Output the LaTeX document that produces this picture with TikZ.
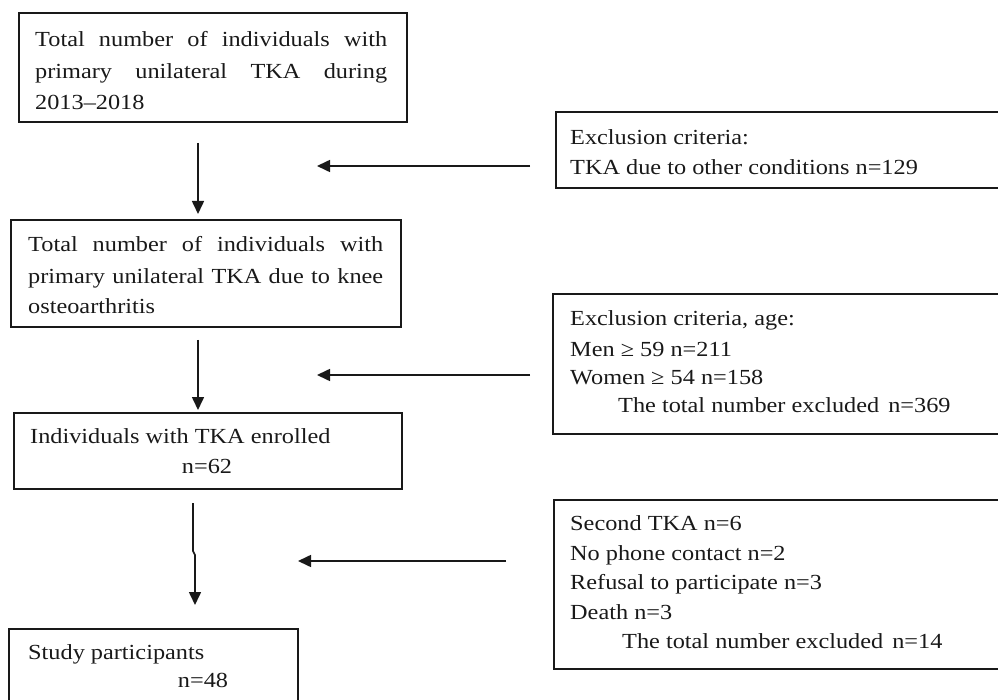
\documentclass[tikz,border=0pt]{standalone}
\usepackage{fontspec}
\setmainfont[FakeStretch=1.13]{Liberation Serif}
\usetikzlibrary{arrows.meta}
\begin{document}
\begin{tikzpicture}[x=1pt,y=-1pt,
  box/.style={draw=black!90, line width=1.6pt, anchor=north west, inner sep=0pt},
  tl/.style={anchor=base west, inner sep=0pt, font=\fontsize{21.5}{29}\selectfont, text=black!90},
  tc/.style={anchor=base, inner sep=0pt, font=\fontsize{21.5}{29}\selectfont, text=black!90},
  arr/.style={line width=1.6pt, black!90, -{Triangle[length=13pt,width=12pt]}}]
\useasboundingbox (0,0) rectangle (998,700);

% left boxes
\node[box, minimum width=388pt, minimum height=109pt] (b1) at (18,12) {};
\node[box, minimum width=390pt, minimum height=107pt] (b2) at (10,219) {};
\node[box, minimum width=388pt, minimum height=76pt] (b3) at (13,412) {};
\node[box, minimum width=289pt, minimum height=100pt] (b4) at (8,628) {};

% right boxes
\node[box, minimum width=460pt, minimum height=76pt] (r1) at (555,111) {};
\node[box, minimum width=460pt, minimum height=140pt] (r2) at (552,293) {};
\node[box, minimum width=460pt, minimum height=169pt] (r3) at (553,499) {};

% texts box 1
\node[tl] (t1a) at (35,47) {\makebox[352pt][s]{Total number of individuals with}};
\node[tl] (t1b) at (35,79) {\makebox[352pt][s]{primary unilateral TKA during}};
\node[tl] (t1c) at (35,110) {2013–2018};

% texts box 2
\node[tl] (t2a) at (28,252) {\makebox[355pt][s]{Total number of individuals with}};
\node[tl] (t2b) at (28,284) {\makebox[355pt][s]{primary unilateral TKA due to knee}};
\node[tl] (t2c) at (28,314) {osteoarthritis};

% texts box 3
\node[tl] (t3a) at (30,443) {Individuals with TKA enrolled};
\node[tc] (t3b) at (207,473) {n=62};

% texts box 4
\node[tl] (t4a) at (28,659) {Study participants};
\node[tc] (t4b) at (203,687) {n=48};

% right box 1
\node[tl] (s1a) at (570,145) {Exclusion criteria:};
\node[tl] (s1b) at (570,175) {TKA due to other conditions n=129};

% right box 2
\node[tl] (s2a) at (570,326) {Exclusion criteria, age:};
\node[tl] (s2b) at (570,356) {Men ≥ 59 n=211};
\node[tl] (s2c) at (570,384) {Women ≥ 54 n=158};
\node[tl] (s2d) at (618,412) {The total number excluded\hspace{9pt}n=369};

% right box 3
\node[tl] (s3a) at (570,530) {Second TKA n=6};
\node[tl] (s3b) at (570,560) {No phone contact n=2};
\node[tl] (s3c) at (570,589) {Refusal to participate n=3};
\node[tl] (s3d) at (570,619) {Death n=3};
\node[tl] (s3e) at (622,648) {The total number excluded\hspace{9pt}n=14};

% arrows
\coordinate (v1s) at (198,143);
\coordinate (v1e) at (198,214);
\coordinate (h1s) at (530,166);
\coordinate (h1e) at (317,166);
\coordinate (v2s) at (198,340);
\coordinate (v2e) at (198,410);
\coordinate (h2s) at (530,375);
\coordinate (h2e) at (317,375);
\coordinate (v3s) at (193,503);
\coordinate (v3k1) at (193,551);
\coordinate (v3k2) at (195,555);
\coordinate (v3e) at (195,605);
\coordinate (h3s) at (506,561);
\coordinate (h3e) at (298,561);

\draw[arr] (v1s) -- (v1e);
\draw[arr] (h1s) -- (h1e);
\draw[arr] (v2s) -- (v2e);
\draw[arr] (h2s) -- (h2e);
\draw[arr] (v3s) -- (v3k1) -- (v3k2) -- (v3e);
\draw[arr] (h3s) -- (h3e);
\end{tikzpicture}
\end{document}
